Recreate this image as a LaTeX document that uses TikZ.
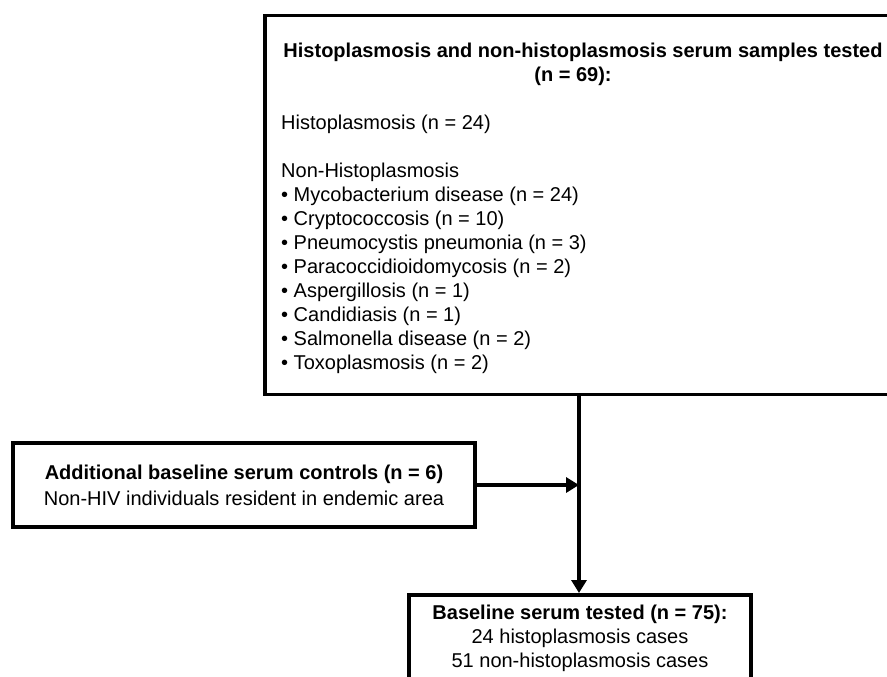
\documentclass[tikz,border=0pt]{standalone}
\usepackage{fontspec}
\setmainfont{Liberation Sans}
\usetikzlibrary{arrows.meta}

\tikzset{
  box/.style={draw, line width=3.6pt, rectangle, inner sep=0pt},
  flow/.style={line width=3.6pt, -{Triangle[length=13pt,width=15pt]}},
  txt/.style={inner sep=0pt, font=\fontsize{20}{24}\selectfont}
}

\begin{document}
\begin{tikzpicture}[x=1pt,y=-1pt]
  \useasboundingbox (0,0) rectangle (887,677);
  \clip (0,0) rectangle (887,677);

  % boxes
  \node[box, minimum width=636pt, minimum height=379pt] (samples) at (583,205) {};
  \node[box, minimum width=462pt, minimum height=84pt, align=center,
        font=\fontsize{20}{26}\selectfont] (extra) at (244,485)
        {\textbf{Additional baseline serum controls (n = 6)}\\Non-HIV individuals resident in endemic area};
  \node[box, anchor=north, minimum width=342pt, minimum height=120pt] (baseline) at (580,593) {};

  % text of the samples box
  \node[txt, anchor=base, font=\bfseries\fontsize{20}{24}\selectfont] (title) at (583,58)
        {Histoplasmosis and non-histoplasmosis serum samples tested};
  \node[txt, anchor=base, font=\bfseries\fontsize{20}{24}\selectfont] (total) at (573,82) {(n = 69):};
  \node[txt, anchor=base west] (histo) at (281,129) {Histoplasmosis (n = 24)};
  \node[txt, anchor=base west] (nonhisto) at (281,177) {Non-Histoplasmosis};
  \foreach \name [count=\i] in {Mycobacterium disease (n = 24), Cryptococcosis (n = 10),
      Pneumocystis pneumonia (n = 3), Paracoccidioidomycosis (n = 2), Aspergillosis (n = 1),
      Candidiasis (n = 1), Salmonella disease (n = 2), Toxoplasmosis (n = 2)}
    \node[txt, anchor=base west] (item\i) at (281,177+24.1*\i) {\textbullet\ \name};

  % text of the baseline box
  \node[txt, anchor=north, align=center] (tested) at (580,605)
        {\textbf{Baseline serum tested (n = 75):}\\24 histoplasmosis cases\\51 non-histoplasmosis cases};

  % connectors
  \coordinate (join) at (579,485);
  \draw[flow] (samples.south -| join) -- (join |- baseline.north);
  \draw[flow] (extra.east) -- (join);
\end{tikzpicture}
\end{document}
